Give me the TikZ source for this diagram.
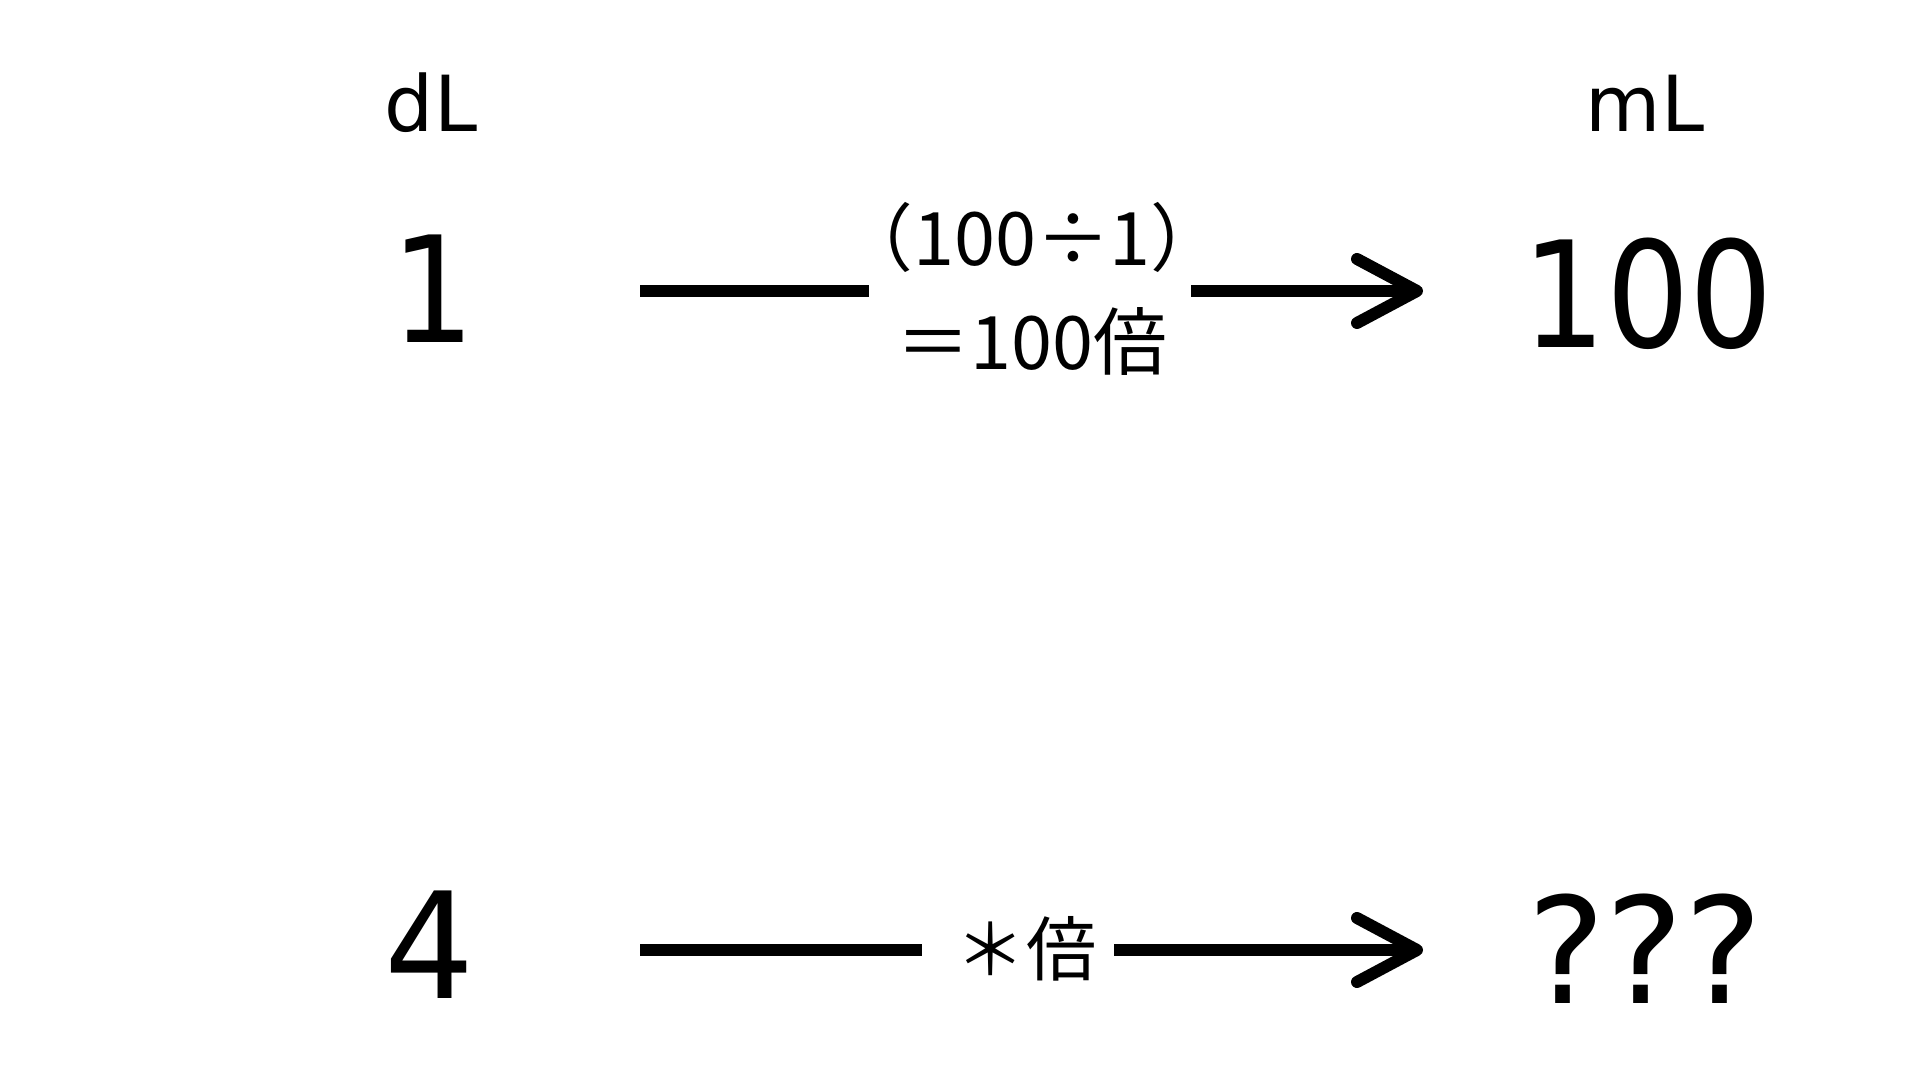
\documentclass[tikz,border=0pt]{standalone}
\usepackage{fontspec}
\setmainfont{DejaVu Sans}
\newfontfamily\jpfont{Noto Sans CJK JP}
\usetikzlibrary{arrows.meta}
\begin{document}
\begin{tikzpicture}[
  unit/.style={font=\fontsize{22}{26}\selectfont, anchor=base, inner sep=0pt},
  big/.style={font=\fontsize{42}{50}\selectfont, anchor=base, inner sep=0pt},
  lab/.style={font=\jpfont\fontsize{21}{25}\selectfont, inner sep=0pt, align=center},
  conn/.style={line width=0.12cm},
  arr/.style={conn, -{Straight Barb[round, length=0.6cm, width=0.64cm, line width=0.12cm]}}
]
\useasboundingbox (0,0) rectangle (19.2,10.8);
\node[unit] (dL) at (4.31,9.48) {dL};
\node[unit] (mL) at (16.45,9.48) {mL};
\node[big] (one) at (4.33,7.37) {\scalebox{0.89}[1]{1}};
\node[big] (hundred) at (16.48,7.32) {\scalebox{0.89}[1]{100}};
\node[big] (four) at (4.30,0.81) {\scalebox{0.96}[1]{4}};
\node[big] (qq) at (16.45,0.76) {???};
\node[lab, anchor=base] (lab1a) at (10.32,8.14) {（100÷1）};
\node[lab, anchor=base] (lab1b) at (10.32,7.10) {＝100倍};
\node[lab, font=\jpfont\fontsize{20}{24}\selectfont] (lab2) at (10.26,1.31) {＊倍};
\coordinate (a1) at (6.40,7.89);
\coordinate (b1) at (8.69,7.89);
\coordinate (c1) at (11.91,7.89);
\coordinate (d1) at (14.23,7.89);
\coordinate (a2) at (6.40,1.30);
\coordinate (b2) at (9.22,1.30);
\coordinate (c2) at (11.14,1.30);
\coordinate (d2) at (14.23,1.30);
\draw[conn] (a1) -- (b1);
\draw[arr] (c1) -- (d1);
\draw[conn] (a2) -- (b2);
\draw[arr] (c2) -- (d2);
\end{tikzpicture}
\end{document}
